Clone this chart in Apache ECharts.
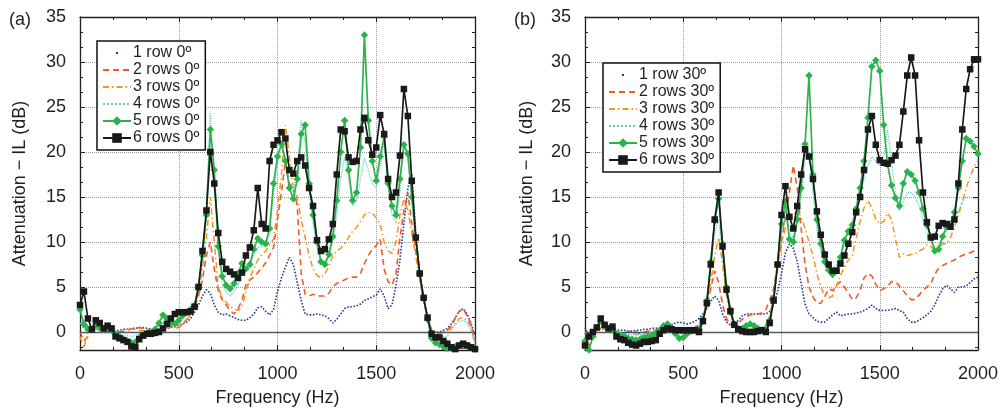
<!DOCTYPE html>
<html><head><meta charset="utf-8">
<script src="https://cdn.jsdelivr.net/npm/echarts@6.0.0/dist/echarts.min.js"></script>
<style>html,body{margin:0;padding:0;background:#fff}#c{width:1005px;height:415px}</style>
</head><body><div id="c"></div>
<script>
// Frequency grid (Hz)
const freq = [0,20,40,60,80,100,120,140,160,180,200,220,240,260,280,300,320,340,360,380,
400,420,440,460,480,500,520,540,560,580,600,620,640,660,680,700,720,740,760,780,
800,820,840,860,880,900,920,940,960,980,1000,1020,1040,1060,1080,1100,1120,1140,1160,1180,
1200,1220,1240,1260,1280,1300,1320,1340,1360,1380,1400,1420,1440,1460,1480,1500,1520,1540,1560,1580,
1600,1620,1640,1660,1680,1700,1720,1740,1760,1780,1800,1820,1840,1860,1880,1900,1920,1940,1960,1980,2000];

const namesA = ['1 row 0º','2 rows 0º','3 rows 0º','4 rows 0º','5 rows 0º','6 rows 0º'];
const namesB = ['1 row 30º','2 rows 30º','3 rows 30º','4 rows 30º','5 rows 30º','6 rows 30º'];
const yTicks = [0,5,10,15,20,25,30,35];
const xTicks = [0,500,1000,1500,2000];

// (a) 0 degrees
const a1 = [1.0,1.2,0.6,0.3,0.3,0.2,0.3,0.3,0.2,0.1,
0.2,0.3,0.3,0.4,0.4,0.5,0.5,0.4,0.3,0.3,
0.3,0.3,0.4,0.5,0.6,0.8,0.9,1.1,1.5,2.2,
3.0,4.0,4.7,4.3,3.0,2.2,1.9,2.0,1.8,1.6,
1.4,1.3,1.3,1.6,2.0,2.7,2.8,2.3,1.9,2.5,
4.5,6.0,7.2,8.3,7.5,5.5,3.5,2.0,1.9,1.9,
2.0,1.9,1.8,1.5,1.0,1.4,2.0,2.6,2.8,2.8,
2.9,3.1,3.5,3.7,3.9,4.1,4.8,4.0,2.6,3.0,
5.2,8.0,12.0,16.0,17.5,11.0,6.5,3.5,1.5,0.2,
0.0,0.0,0.2,0.4,0.9,1.6,2.3,2.6,2.0,1.0,
-0.5];
const a2 = [0.0,-1.0,-0.5,0.2,0.3,0.2,0.1,0.0,0.0,0.0,
0.0,0.1,0.2,0.3,0.4,0.5,0.4,0.3,0.2,0.2,
0.2,0.3,0.5,0.6,0.4,0.5,0.9,1.4,2.0,2.8,
4.0,5.8,8.5,10.0,7.0,4.6,3.6,3.0,2.4,2.0,
2.6,3.5,5.2,5.8,6.1,6.6,7.1,7.7,8.5,9.4,
12.5,15.5,19.0,16.5,16.0,14.0,6.5,4.2,4.0,4.2,
4.0,4.0,4.0,4.3,5.0,5.4,5.6,5.8,6.0,6.1,
6.1,6.5,7.6,8.5,9.2,9.6,10.3,7.0,5.6,5.2,
6.5,10.5,13.5,15.5,12.0,9.0,6.0,3.5,1.5,0.2,
-0.2,-0.1,0.0,0.2,0.7,1.5,2.3,2.6,1.8,0.8,
-1.0];
const a3 = [-0.5,-1.8,0.0,0.2,0.3,0.2,0.1,0.1,0.0,0.0,
0.1,0.2,0.3,0.3,0.3,0.2,0.1,0.1,0.2,0.3,
0.3,0.4,0.5,0.5,0.5,0.6,0.9,1.3,2.0,3.0,
4.3,7.0,10.5,15.0,10.0,5.0,3.8,3.3,2.8,2.6,
2.4,2.8,4.4,6.0,7.0,8.0,8.6,9.0,9.7,10.3,
13.5,17.5,23.0,19.5,16.0,15.0,12.5,10.5,8.5,7.0,
6.3,6.0,6.5,7.3,8.5,9.0,9.3,9.8,10.5,11.2,
11.6,12.3,13.0,13.3,13.2,12.7,12.0,10.0,9.0,8.7,
10.0,13.0,14.8,13.5,11.0,8.5,5.8,3.4,1.3,0.0,
-0.3,-0.2,0.0,0.1,0.4,1.0,1.5,1.6,1.2,0.6,
-1.5];
const a4 = [1.0,0.5,0.3,0.2,0.3,0.3,0.2,0.2,0.1,0.0,
-0.2,-0.3,-0.4,-0.5,-0.4,-0.2,0.0,0.1,0.2,0.3,
0.6,1.0,1.2,1.0,1.0,1.3,1.7,2.0,2.3,2.8,
4.5,8.0,13.5,24.5,16.5,9.0,5.5,4.4,4.0,4.4,
5.2,6.3,6.8,7.4,8.6,9.4,9.5,9.6,11.0,15.5,
19.0,21.0,19.0,16.5,15.5,18.0,23.5,21.0,15.5,12.0,
9.5,8.0,7.8,8.5,10.0,13.0,17.0,19.5,17.0,14.0,
14.5,17.0,19.3,18.0,16.5,16.0,18.5,21.0,16.0,13.0,
12.0,15.5,21.0,19.0,14.5,10.0,6.0,3.5,1.5,0.2,
-0.3,-0.4,-0.5,-0.5,0.2,0.8,1.2,1.3,1.0,0.2,
-1.0];
const a5 = [2.5,0.8,0.3,0.3,0.8,0.5,0.3,0.3,0.2,-0.3,
-0.5,-0.8,-1.0,-1.2,-1.1,-0.6,-0.3,-0.1,0.0,0.3,
1.0,1.9,1.5,1.0,0.9,1.3,1.8,2.2,2.5,3.0,
5.0,8.5,13.0,22.5,18.0,9.5,6.2,5.2,4.8,5.4,
6.5,7.6,7.0,7.5,9.2,10.4,10.0,9.8,11.5,16.5,
19.5,20.9,19.0,16.0,14.8,17.0,22.0,23.0,16.5,13.0,
10.0,7.8,7.5,8.6,10.6,14.6,20.0,23.5,18.0,14.6,
15.5,20.5,33.0,23.5,19.0,16.8,19.5,21.7,16.5,14.0,
13.0,17.0,20.8,19.8,15.0,10.5,6.5,3.8,1.4,-0.7,
-1.2,-1.4,-1.6,-1.8,-1.8,-1.6,-1.5,-1.5,-1.5,-1.7,
-1.9];
const a6 = [3.0,4.5,1.5,0.3,1.3,1.0,0.4,0.7,0.4,-0.5,
-0.7,-0.9,-1.1,-1.6,-1.7,-0.8,-0.4,-0.2,-0.2,-0.1,
0.0,0.4,0.9,1.5,2.0,2.2,2.2,2.2,2.3,2.8,
5.0,9.0,13.5,20.0,16.5,11.0,7.8,7.0,6.7,6.4,
6.0,6.6,8.5,9.4,11.3,16.0,12.0,11.5,19.0,20.8,
21.3,22.2,21.5,18.0,17.6,19.0,19.4,18.5,16.0,14.0,
10.2,9.0,9.2,10.3,12.0,17.5,22.5,22.3,19.4,18.9,
19.0,22.5,23.8,21.3,19.7,20.5,24.1,22.0,17.0,15.0,
15.5,19.6,27.0,24.0,16.8,10.5,6.5,3.8,1.6,-0.2,
-0.6,-0.6,-1.0,-1.3,-1.7,-1.9,-1.5,-1.3,-1.5,-1.7,
-1.9];

// (b) 30 degrees
const b1 = [0.5,-0.5,0.0,0.2,0.4,0.3,0.3,0.3,0.2,0.2,
0.2,0.1,0.1,0.2,0.2,0.3,0.3,0.4,0.4,0.5,
0.5,0.6,0.8,1.0,1.1,1.0,0.9,1.0,1.2,1.5,
2.0,2.6,3.4,4.0,3.5,2.0,1.1,0.8,0.9,1.3,
1.8,2.0,2.0,2.0,2.0,2.0,2.0,2.3,3.0,4.5,
6.5,8.8,9.8,9.3,7.8,5.4,3.1,2.0,1.6,1.2,
1.1,1.1,1.5,1.9,2.2,1.8,1.9,2.0,2.0,2.1,
2.2,2.4,2.6,3.0,2.6,2.4,2.4,2.4,2.5,2.6,
2.4,2.2,1.5,1.1,1.1,1.3,1.6,1.9,2.3,3.0,
4.0,4.8,5.2,4.8,4.4,5.0,5.0,5.1,5.5,5.9,
6.1];
const b2 = [0.0,-1.5,-0.5,0.2,0.4,0.3,0.2,0.1,0.0,-0.1,
-0.1,0.0,0.1,0.0,-0.2,0.0,0.1,0.2,0.2,0.3,
0.3,0.3,0.3,0.3,0.3,0.3,0.4,0.4,0.5,0.8,
1.5,2.8,4.8,6.8,5.5,3.0,1.5,0.8,0.7,1.0,
1.4,1.7,1.9,2.0,2.0,2.1,2.5,3.5,4.8,7.5,
10.0,12.8,15.5,18.5,16.0,11.5,7.5,5.0,3.9,3.2,
3.2,3.9,4.8,4.6,5.2,5.6,5.0,4.4,3.6,3.8,
4.6,6.0,6.5,6.2,5.3,4.6,4.8,5.1,5.6,5.6,
5.1,4.6,4.0,3.6,3.6,4.1,4.6,5.0,5.4,6.4,
7.1,7.4,7.6,7.8,8.0,8.3,8.5,8.7,8.8,9.0,
9.1];
const b3 = [-1.0,-0.8,0.0,0.2,0.4,0.3,0.2,0.1,0.0,-0.2,
-0.2,-0.1,0.0,-0.3,-0.4,-0.3,-0.1,0.0,0.1,0.2,
0.3,0.3,0.3,0.2,0.2,0.2,0.2,0.3,0.4,0.6,
1.3,2.8,5.5,8.5,10.5,7.5,4.0,1.8,0.8,0.4,
0.2,0.2,0.3,0.3,0.3,0.4,0.8,1.8,4.0,7.0,
10.0,11.5,12.0,13.0,13.5,12.8,11.5,10.0,8.5,6.5,
5.0,4.0,3.8,4.0,5.2,6.3,7.2,8.0,8.5,10.4,
12.3,13.8,14.6,13.8,12.5,12.0,12.3,13.2,12.5,10.3,
8.3,8.7,8.5,8.6,8.7,9.0,9.2,9.7,9.5,9.1,
9.4,9.8,9.8,10.5,11.6,13.0,14.4,16.0,17.3,18.3,
19.1];
const b4 = [0.0,-0.5,0.0,0.3,0.6,0.4,0.2,0.2,0.0,-0.1,
-0.2,-0.3,-0.3,-0.3,-0.3,-0.2,-0.1,0.0,0.1,0.2,
0.3,0.4,0.3,0.2,0.1,0.1,0.2,0.3,0.4,0.6,
1.5,3.3,7.0,11.0,12.5,8.5,4.5,2.3,1.0,0.6,
0.5,0.6,0.7,0.6,0.5,0.5,0.7,1.6,4.0,7.5,
11.0,13.0,11.0,10.5,12.5,15.5,19.5,20.0,15.5,11.5,
9.0,7.5,7.0,7.0,7.5,8.5,9.8,11.0,12.0,13.5,
15.0,17.0,18.5,19.5,19.0,18.5,19.5,22.5,19.0,15.5,
13.5,14.5,15.5,15.5,15.0,14.0,12.5,11.0,10.0,9.5,
9.7,10.5,11.2,11.8,12.5,13.5,14.5,15.0,15.0,14.8,
14.8];
const b5 = [-1.0,-2.0,-0.5,0.5,1.2,0.6,0.3,0.4,-0.2,-0.4,
-0.5,-0.7,-0.8,-0.9,-0.8,-0.6,-0.5,-0.4,-0.2,0.2,
0.7,0.9,0.5,-0.2,-0.7,-0.6,-0.2,0.1,0.2,0.3,
1.4,3.5,7.8,12.3,14.8,9.8,5.0,2.5,0.9,0.4,
0.4,0.7,0.9,0.7,0.4,0.2,0.3,1.3,3.8,7.5,
12.0,14.5,10.3,10.0,12.5,16.0,20.9,28.5,17.5,12.5,
9.8,7.8,6.9,6.4,6.8,8.3,10.2,11.2,11.9,13.7,
16.0,19.0,23.8,29.5,30.2,29.0,23.0,18.6,16.3,14.9,
14.0,16.5,17.8,17.5,16.8,15.5,13.7,11.9,10.5,9.0,
9.2,10.6,11.7,12.0,13.3,16.0,19.0,21.5,21.2,20.6,
19.8];
const b6 = [-1.5,-0.5,0.0,0.5,1.5,0.8,0.4,0.6,-0.5,-0.8,
-0.9,-1.2,-1.4,-1.5,-1.3,-1.1,-1.1,-1.0,-0.9,-0.2,
0.2,0.4,0.3,0.2,0.2,0.2,0.2,0.2,0.2,0.0,
1.2,3.2,7.5,12.5,15.5,9.5,4.7,2.3,0.8,0.3,
0.1,0.0,0.0,0.0,0.1,0.2,0.0,1.0,3.5,7.5,
13.0,16.2,12.8,11.5,14.0,17.5,20.3,19.5,17.0,13.4,
10.8,8.6,7.5,6.8,6.8,7.6,8.5,9.8,11.1,13.3,
15.0,18.0,22.5,24.0,20.8,19.1,18.8,18.7,19.1,19.6,
20.8,24.5,28.5,30.5,28.5,21.3,15.5,12.2,10.5,10.6,
11.8,12.1,12.0,11.7,12.5,16.5,22.5,27.0,29.2,30.3,
30.3];

const FONT = 'Liberation Sans, Arial, sans-serif';
const TXT = '#231f20';
const styles = [
  {color:'#2b3a9a', type:'dotted', width:1.6, symbol:'none'},
  {color:'#f15a29', type:[6,4], width:1.6, symbol:'none'},
  {color:'#f7941d', type:[6,3,1.5,3], width:1.5, symbol:'none'},
  {color:'#63c9cf', type:'dotted', width:1.2, symbol:'none'},
  {color:'#2bb34b', type:'solid', width:1.7, symbol:'diamond', size:7.5},
  {color:'#1a1a1a', type:'solid', width:1.7, symbol:'rect', size:6.5}
];
function pairs(arr){ return freq.map((f,i)=>[f, arr[i]]); }
function makeSeries(arrs, names, axisIdx){
  return arrs.map((arr,k)=>{
    const s = styles[k];
    const o = {
      type:'line', name:names[k], xAxisIndex:axisIdx, yAxisIndex:axisIdx,
      data:pairs(arr), symbol:s.symbol, symbolSize:s.size||0, showSymbol:s.symbol!=='none',
      itemStyle:{color:s.color}, lineStyle:{color:s.color, type:s.type, width:s.width},
      animation:false, z:2+k
    };
    if(k===0){
      o.markLine = {silent:true, symbol:'none', label:{show:false},
        lineStyle:{color:'#58595b', type:'solid', width:1.3}, data:[{yAxis:0}], animation:false};
    }
    return o;
  });
}
function xAx(grid, pos, show){
  return {type:'value', gridIndex:grid, position:pos, min:0, max:2000, interval:500,
    name: show ? 'Frequency (Hz)' : '', nameLocation:'middle', nameGap:39,
    nameTextStyle:{fontFamily:FONT, fontSize:18, color:TXT},
    axisLine:{show:true, onZero:false, lineStyle:{color:'#231f20', width:1.3}},
    axisTick:{show:true, inside:true, length:5, lineStyle:{color:'#231f20'}},
    minorTick:{show:true, splitNumber:3, length:3, lineStyle:{color:'#231f20'}},
    axisLabel:{show:show, fontFamily:FONT, fontSize:18, color:TXT, margin:15,
      formatter:(v)=> xTicks.indexOf(v)>=0 ? String(v) : ''},
    splitLine:{show:show, lineStyle:{color:'#9a9a9a', type:'dotted', width:1}}};
}
function yAx(grid, pos, show, gap){
  return {type:'value', gridIndex:grid, position:pos, min:-2, max:35,
    minInterval:5, maxInterval:5, splitNumber:8,
    name: show ? 'Attenuation − IL (dB)' : '', nameLocation:'middle', nameGap:gap,
    nameTextStyle:{fontFamily:FONT, fontSize:18, color:TXT},
    axisLine:{show:true, onZero:false, lineStyle:{color:'#231f20', width:1.3}},
    axisTick:{show:true, inside:true, length:5, lineStyle:{color:'#231f20'}},
    minorTick:{show:true, splitNumber:3, length:3, lineStyle:{color:'#231f20'}},
    axisLabel:{show:show, fontFamily:FONT, fontSize:18, color:TXT, margin:14,
      formatter:(v)=> yTicks.indexOf(v)>=0 ? String(v) : ''},
    splitLine:{show:show, lineStyle:{color:'#9a9a9a', type:'dotted', width:1}}};
}
function legend(names, left, top){
  return {orient:'vertical', left:left, top:top,
    data:names.map((n,k)=> k===0 ? {name:n, itemStyle:{opacity:0}, lineStyle:{type:[0.01,13,2,100], width:2}}
                       : (k<4 ? {name:n, itemStyle:{opacity:0}} : {name:n})),
    backgroundColor:'#fff', borderColor:'#111', borderWidth:1.5, borderRadius:0,
    padding:[4,6,4,5], itemWidth:28, itemHeight:12, itemGap:1,
    textStyle:{fontFamily:FONT, fontSize:16, lineHeight:16, color:TXT, padding:[0,0,0,-3]},
    selectedMode:false};
}
const chart = echarts.init(document.getElementById('c'), null, {renderer:'canvas'});
chart.setOption({
  animation:false,
  backgroundColor:'#fff',
  title:[
    {text:'(a)', left:4, top:6, textStyle:{fontFamily:FONT, fontSize:18, fontWeight:'normal', color:TXT}},
    {text:'(b)', left:509, top:6, textStyle:{fontFamily:FONT, fontSize:18, fontWeight:'normal', color:TXT}}
  ],
  grid:[
    {left:80, right:530, top:17, bottom:65, outerBoundsMode:'none', containLabel:false},
    {left:585, right:27, top:17, bottom:65, outerBoundsMode:'none', containLabel:false}
  ],
  xAxis:[xAx(0,'bottom',true), xAx(0,'top',false), xAx(1,'bottom',true), xAx(1,'top',false)],
  yAxis:[yAx(0,'left',true,51), yAx(0,'right',false,0), yAx(1,'left',true,49), yAx(1,'right',false,0)],
  legend:[legend(namesA, 97, 41), legend(namesB, 603, 63)],
  series:[...makeSeries([a1,a2,a3,a4,a5,a6], namesA, 0), ...makeSeries([b1,b2,b3,b4,b5,b6], namesB, 2)]
});
</script></body></html>
